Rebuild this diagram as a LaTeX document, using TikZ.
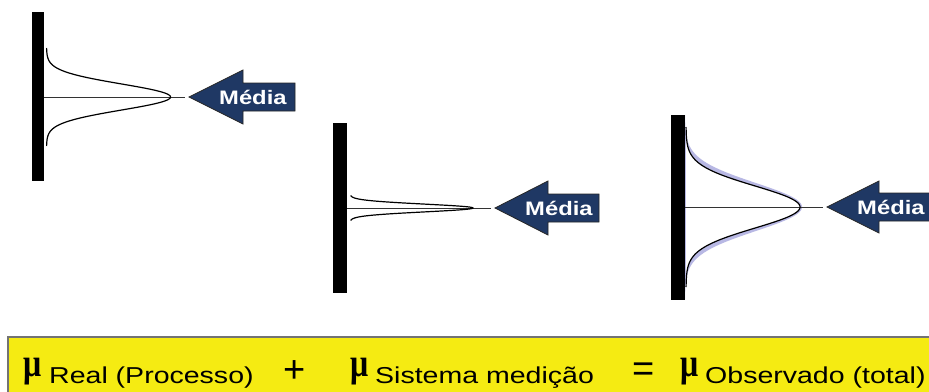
\documentclass[tikz,border=0pt]{standalone}
\usepackage{graphicx}
\usepackage{fontspec}
\setmainfont{Liberation Sans}
\newfontfamily\subfont[FakeStretch=1.24]{Liberation Sans}
\newfontfamily\arrfont[FakeStretch=1.22]{Liberation Sans Bold}
\newfontfamily\mufont{Liberation Serif}
\definecolor{navy}{RGB}{31,56,100}
\definecolor{boxyellow}{RGB}{245,235,18}
\definecolor{lav}{RGB}{184,184,228}
\newcommand{\mysym}{\scalebox{0.8}[1]{\bfseries μ}}
\tikzset{
  barstyle/.style={fill=black},
  curvestyle/.style={draw=black, line width=1.2pt},
  axisline/.style={draw=black!80, line width=0.8pt},
  arrowshape/.style={fill=navy, draw=black!85, line width=0.8pt, line join=miter},
  arrowtext/.style={text=white, font=\arrfont\fontsize{19.5}{19.5}\selectfont, inner sep=0pt, anchor=base west},
  mutext/.style={font=\mufont\fontsize{40}{40}\selectfont, inner sep=0pt, anchor=base west},
  subtext/.style={font=\subfont\fontsize{23}{23}\selectfont, inner sep=0pt, anchor=base west},
  optext/.style={font=\fontsize{38}{38}\selectfont, inner sep=0pt, anchor=base},
}
\begin{document}
\begin{tikzpicture}[x=1pt,y=-1pt]
\useasboundingbox (0,0) rectangle (929,391);
\clip (0,0) rectangle (929,391);
\fill[white] (0,0) rectangle (929,391);

% ---------- Panel 1 ----------
\draw[axisline] (44,97) -- (185,97);
\draw[curvestyle] plot[domain=-49:49, samples=120, smooth] ({46.5+124*exp(-((\x)^2)/338)}, {97+\x});
\fill[barstyle] (32,12) rectangle (44,181);
\draw[arrowshape] (189,97) -- (243,70) -- (243,83) -- (295,83) -- (295,111) -- (243,111) -- (243,124) -- cycle;
\node[arrowtext] (m1) at (219,104) {Média};

% ---------- Panel 2 ----------
\draw[axisline] (347,208) -- (491,208);
\draw[curvestyle] plot[domain=-12.5:12.5, samples=120, smooth] ({350+123*exp(-((\x)^2)/30.4)}, {208+\x});
\fill[barstyle] (333,123) rectangle (347,293);
\draw[arrowshape] (495,208) -- (548,181) -- (548,194) -- (599,194) -- (599,222) -- (548,222) -- (548,235) -- cycle;
\node[arrowtext] (m2) at (525,215) {Média};

% ---------- Panel 3 ----------
\fill[lav] plot[domain=-92:92, samples=160, smooth] ({685+117*exp(-((\x)^2)/1150)}, {207+\x}) -- cycle;
\fill[white] plot[domain=-80:80, samples=160, smooth] ({686+114*exp(-((\x)^2)/882)}, {207+\x}) -- cycle;
\draw[axisline] (685,207) -- (823,207);
\draw[curvestyle] plot[domain=-80:80, samples=160, smooth] ({686+114*exp(-((\x)^2)/882)}, {207+\x});
\fill[barstyle] (671,115) rectangle (685,300);
\draw[arrowshape] (827,207) -- (879,181) -- (879,193) -- (945,193) -- (945,221) -- (879,221) -- (879,233) -- cycle;
\node[arrowtext] (m3) at (857,214) {Média};

% ---------- Bottom formula box ----------
\draw[fill=boxyellow, draw=black!55, line width=1.6pt] (8,337) rectangle (945,400);
\node[mutext] (mu1) at (23,376) {\mysym};
\node[subtext] (s1) at (49,383) {Real (Processo)};
\node[optext] (plus) at (295,382) {+};
\node[mutext] (mu2) at (350,376) {\mysym};
\node[subtext] (s2) at (375,383) {Sistema medição};
\node[optext] (eq) at (644,381.5) {=};
\node[mutext] (mu3) at (680,376) {\mysym};
\node[subtext] (s3) at (705,383) {Observado (total)};
\end{tikzpicture}
\end{document}
